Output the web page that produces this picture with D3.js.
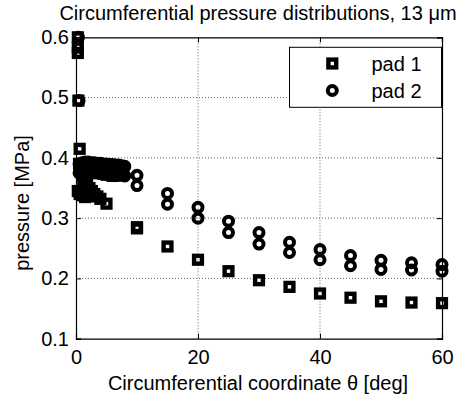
<!DOCTYPE html>
<html><head><meta charset="utf-8">
<script src="https://cdn.jsdelivr.net/npm/d3@7"></script>
<style>body{margin:0;background:#fff}svg{display:block}text{font-family:"Liberation Sans",Arial,sans-serif;fill:#000}</style>
</head><body>
<script>
const xTicks = [0, 20, 40, 60];
const yTicks = [0.1, 0.2, 0.3, 0.4, 0.5, 0.6];

const pad1Theta = [0.3, 0.3, 0.3, 0.4, 0.6,
  0.5, 0.8, 1.0, 1.2, 1.5, 1.8, 2.2, 2.6, 3.0, 3.5, 4.0,
  0.3, 0.6, 1.0, 1.5, 2.0, 1.0, 2.0, 3.0, 4.0, 5.0, 6.0,
  5, 10, 10, 15, 20, 25, 30, 35, 40, 45, 50, 55, 60];
const pad1P = [0.600, 0.583, 0.574, 0.495, 0.415,
  0.390, 0.380, 0.372, 0.365, 0.360, 0.355, 0.350, 0.345, 0.340, 0.336, 0.332,
  0.345, 0.340, 0.338, 0.335, 0.337, 0.390, 0.385, 0.380, 0.376, 0.372, 0.370,
  0.324, 0.285, 0.283, 0.253, 0.231, 0.212, 0.197, 0.186, 0.175, 0.168, 0.162, 0.160, 0.159];

const pad2Theta = [0.4, 0.5, 0.5, 0.5,
  1.0, 1.5, 2.0, 2.5, 3.0, 3.5, 4.0, 4.5, 5.0, 5.5, 6.0, 6.5, 7.0, 7.5, 8.0,
  1.0, 1.5, 2.0, 2.5, 3.0, 3.5, 4.0, 4.5, 5.0, 5.5, 6.0, 6.5, 7.0, 7.5, 8.0,
  10, 10, 15, 15, 20, 20, 25, 25, 30, 30, 35, 35, 40, 40, 45, 45, 50, 50, 55, 55, 60, 60];
const pad2P = [0.600, 0.495, 0.390, 0.375,
  0.392, 0.393, 0.393, 0.392, 0.392, 0.391, 0.391, 0.390, 0.390, 0.389, 0.389, 0.388, 0.388, 0.387, 0.386,
  0.377, 0.377, 0.376, 0.376, 0.375, 0.375, 0.374, 0.374, 0.373, 0.373, 0.372, 0.372, 0.371, 0.371, 0.370,
  0.371, 0.354, 0.341, 0.323, 0.318, 0.300, 0.295, 0.276, 0.276, 0.257, 0.260, 0.243, 0.248, 0.231, 0.238, 0.221, 0.230, 0.215, 0.226, 0.214, 0.223, 0.212];

const seriesNames = ["pad 1", "pad 2"];

const W = 467, H = 402;
const svg = d3.select("body").append("svg").attr("width", W).attr("height", H);
const L = 76, R = 442, T = 37.3, B = 338.7;
const x = d3.scaleLinear().domain([0, 60]).range([L, R]);
const y = d3.scaleLinear().domain([0.1, 0.6]).range([B, T]);

// grid
const g = svg.append("g");
g.selectAll(".gx").data(xTicks.slice(1, -1)).enter().append("line")
  .attr("x1", d => x(d)).attr("x2", d => x(d)).attr("y1", T).attr("y2", B)
  .attr("stroke", "#000").attr("stroke-width", 0.6).attr("stroke-dasharray", "1,2");
g.selectAll(".gy").data(yTicks.slice(1, -1)).enter().append("line")
  .attr("y1", d => y(d)).attr("y2", d => y(d)).attr("x1", L).attr("x2", R)
  .attr("stroke", "#000").attr("stroke-width", 0.6).attr("stroke-dasharray", "1,2");

// axes
const fs = 20;
const axB = d3.axisBottom(x).tickValues(xTicks).tickSize(-5).tickPadding(11).tickFormat(d3.format("d"));
const axL = d3.axisLeft(y).tickValues(yTicks).tickSize(-5).tickPadding(7).tickFormat(d3.format(".1f"));
const axT = d3.axisTop(x).tickValues(xTicks).tickSize(-5).tickFormat("");
const axR = d3.axisRight(y).tickValues(yTicks).tickSize(-5).tickFormat("");
function style(sel){ sel.select(".domain").attr("stroke","#000").attr("stroke-width",1.2);
  sel.selectAll(".tick line").attr("stroke","#000").attr("stroke-width",1);
  sel.selectAll("text").attr("font-size", fs).attr("font-family", "Liberation Sans, Arial, sans-serif").attr("fill","#000"); }
svg.append("g").attr("transform", `translate(0,${B})`).call(axB).call(style);
svg.append("g").attr("transform", `translate(${L},0)`).call(axL).call(style);
svg.append("g").attr("transform", `translate(0,${T})`).call(axT).call(style);
svg.append("g").attr("transform", `translate(${R},0)`).call(axR).call(style);

// markers
const sq = 7.8, sqW = 4.4, cr = 4.5, crW = 4;
function drawSquares(sel, xs, ys){
  sel.selectAll("rect.m").data(xs.map((v,i)=>[v, ys[i]])).enter().append("rect")
    .attr("x", d => x(d[0]) - sq/2).attr("y", d => y(d[1]) - sq/2)
    .attr("width", sq).attr("height", sq)
    .attr("fill", "none").attr("stroke", "#000").attr("stroke-width", sqW);
}
function drawCircles(sel, xs, ys){
  sel.selectAll("circle.m").data(xs.map((v,i)=>[v, ys[i]])).enter().append("circle")
    .attr("cx", d => x(d[0])).attr("cy", d => y(d[1])).attr("r", cr)
    .attr("fill", "none").attr("stroke", "#000").attr("stroke-width", crW);
}
drawSquares(svg.append("g"), pad1Theta, pad1P);
drawCircles(svg.append("g"), pad2Theta, pad2P);

// legend
const lg = svg.append("g");
lg.append("rect").attr("x", 289.5).attr("y", 47.3).attr("width", 152).attr("height", 60)
  .attr("fill", "#fff").attr("stroke", "#000").attr("stroke-width", 1);
lg.append("rect").attr("x", 332.3 - sq/2).attr("y", 63.5 - sq/2).attr("width", sq).attr("height", sq)
  .attr("fill", "none").attr("stroke", "#000").attr("stroke-width", sqW);
lg.append("circle").attr("cx", 332.3).attr("cy", 90.5).attr("r", cr)
  .attr("fill", "none").attr("stroke", "#000").attr("stroke-width", crW);
lg.append("text").attr("x", 371.5).attr("y", 71).attr("font-size", fs).text(seriesNames[0]);
lg.append("text").attr("x", 371.5).attr("y", 98).attr("font-size", fs).text(seriesNames[1]);

// labels
svg.append("text").attr("x", 258).attr("y", 20).attr("text-anchor", "middle").attr("font-size", fs)
  .text("Circumferential pressure distributions, 13 \u03bcm");
svg.append("text").attr("x", 258).attr("y", 390).attr("text-anchor", "middle").attr("font-size", fs)
  .text("Circumferential coordinate \u03b8 [deg]");
svg.append("text").attr("transform", "translate(29,203) rotate(-90)").attr("text-anchor", "middle").attr("font-size", fs)
  .text("pressure [MPa]");
</script>
</body></html>
